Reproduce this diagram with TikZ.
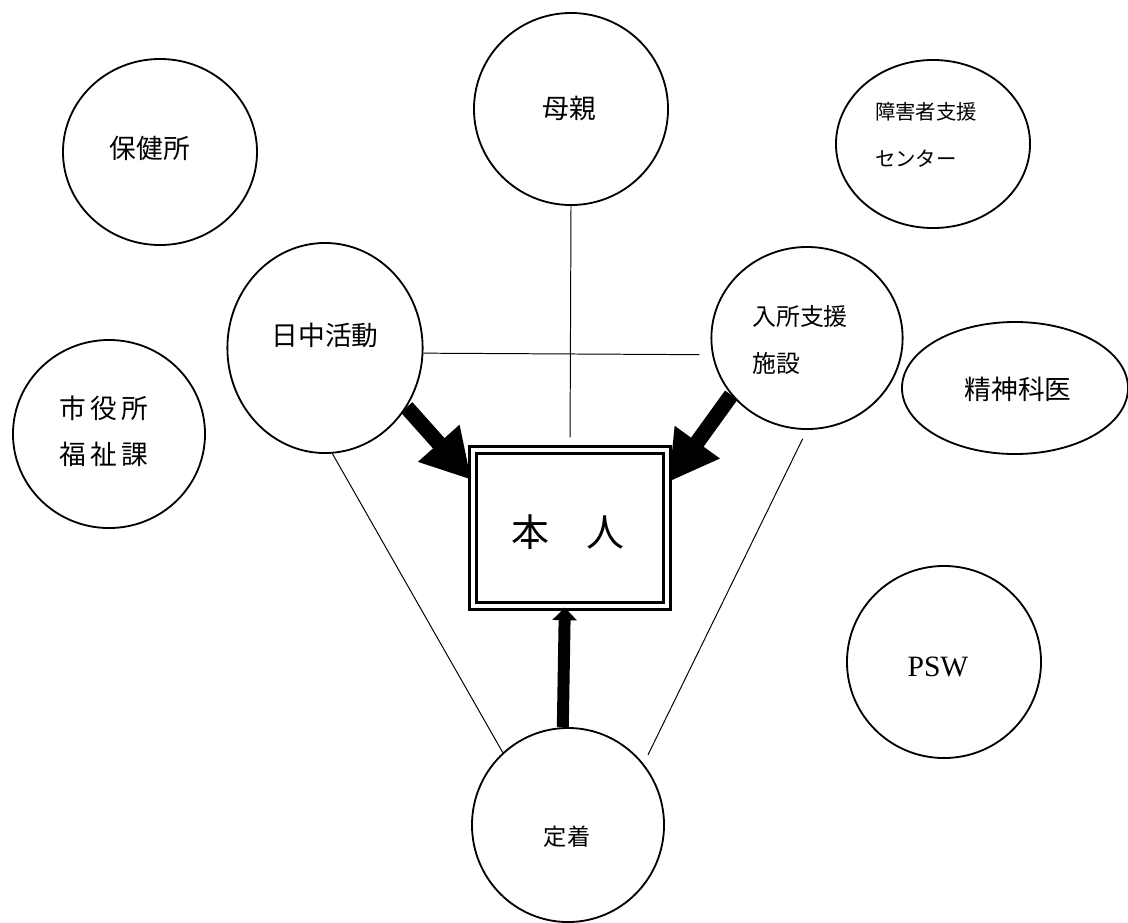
\documentclass[tikz,border=0pt]{standalone}
\usepackage{fontspec}
\usepackage{tikz}
\usetikzlibrary{shapes,% ellipse nodes
arrows.meta}
\newfontfamily\jp{Noto Sans CJK JP}
\newfontfamily\latinserif{Liberation Serif}
\tikzset{every node/.style={inner sep=0pt},
  bubble/.style={draw, ellipse, line width=1.3pt},
  jtext/.style={font=\jp\fontsize{19pt}{33pt}\selectfont, align=left},
  thinline/.style={line width=0.7pt},
  fatarrow/.style={line width=11pt, -{Triangle[length=35pt,width=37pt]}},
  slimarrow/.style={line width=8.5pt, -{Triangle[length=9pt,width=17pt]}}}

\begin{document}
\begin{tikzpicture}[x=0.025cm,y=-0.025cm]
  \useasboundingbox (0,0) rectangle (1128,922);
  % circles and ellipses round the person
  \foreach \n/\x/\y/\w/\h in {hoken/160/152/4.85/4.65, haha/571/109/4.85/4.8,
    shogai/933/144/4.85/4.2, nitchu/325/348/4.88/5.25, nyusho/807/338/4.78/4.55,
    shiyaku/109/434/4.8/4.7, seishin/1015/388/5.65/3.3, psw/944/662/4.85/4.8,
    teichaku/568/825/4.8/4.85}
    \node[bubble, minimum width=\w cm, minimum height=\h cm] (\n) at (\x,\y) {};
  \node[draw, double, line width=2.1pt, double distance=2.8pt,
    minimum width=4.85cm, minimum height=3.9cm] (honnin) at (570,528) {};
  % texts
  \node[jtext] (hokenT) at (150,148) {保健所};
  \node[jtext] (hahaT) at (569,108) {母親};
  \node[jtext, font=\jp\fontsize{14.5pt}{33pt}\selectfont] (shogaiT) at (926,135) {障害者支援\\センター};
  \node[jtext] (nitchuT) at (325,335) {日中活動};
  \node[jtext, font=\jp\fontsize{17pt}{33pt}\selectfont] (nyushoT) at (800,340) {入所支援\\施設};
  \node[jtext] (shiyakuT) at (104,431) {市\,役\,所\\福\,祉\,課};
  \node[jtext] (seishinT) at (1018,389) {精神科医};
  \node[font=\latinserif\fontsize{21pt}{24pt}\selectfont] (pswT) at (938,667) {PSW};
  \node[jtext, font=\jp\fontsize{16.5pt}{20pt}\selectfont] (teichakuT) at (567,837) {定着};
  \node[jtext, font=\jp\fontsize{27pt}{32pt}\selectfont] (honninT) at (568,532) {本　人};
  % connectors
  \draw[thinline, shorten >=8pt] (haha.south) -- (honnin.north);
  \draw[thinline, shorten >=9pt] (nitchu.-3) -- (nyusho.190);
  \draw[thinline] (nitchu.-86) -- (teichaku.132);
  \draw[thinline, shorten <=7pt, shorten >=7pt] (nyusho.south) -- (teichaku.39);
  \draw[fatarrow] (nitchu.-36) -- (honnin.154);
  \draw[fatarrow] (nyusho.217) -- (honnin.25);
  \draw[slimarrow] ([xshift=-0.13cm]teichaku.north) -- ([xshift=-0.13cm]honnin.south);
\end{tikzpicture}
\end{document}
